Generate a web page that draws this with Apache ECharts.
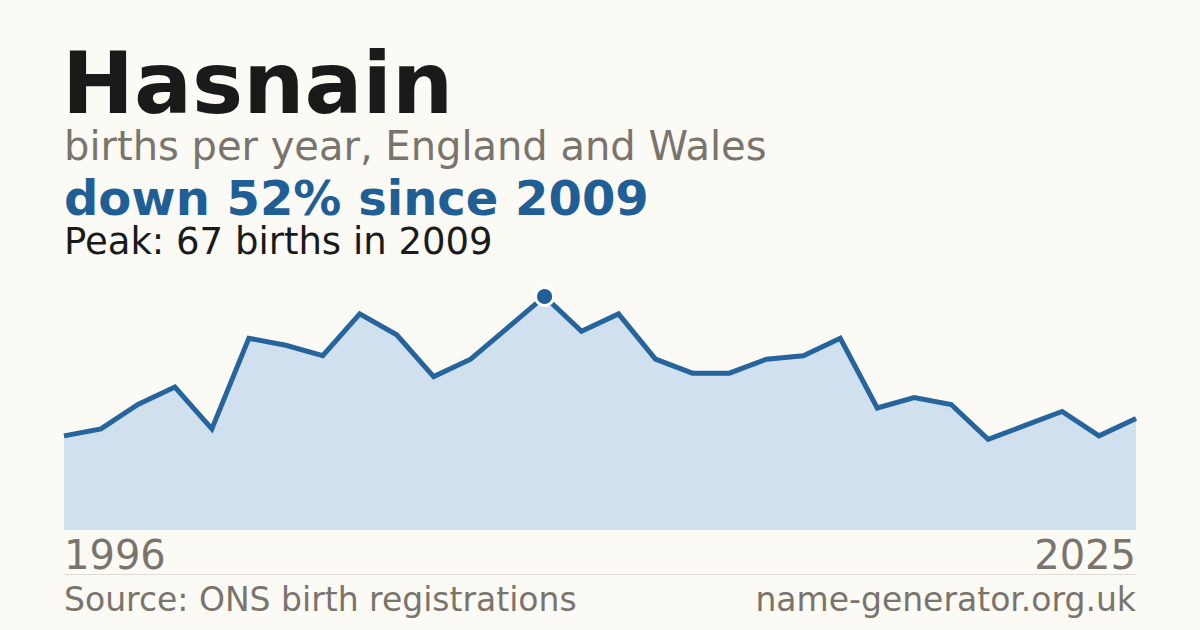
<!DOCTYPE html>
<html>
<head>
<meta charset="utf-8">
<style>
html,body{margin:0;padding:0;background:#fbfaf5;}
#chart{width:1200px;height:630px;}
</style>
<script src="https://cdn.jsdelivr.net/npm/echarts@6/dist/echarts.min.js"></script>
</head>
<body>
<div id="chart"></div>
<script>
const years = [1996,1997,1998,1999,2000,2001,2002,2003,2004,2005,2006,2007,2008,2009,2010,2011,2012,2013,2014,2015,2016,2017,2018,2019,2020,2021,2022,2023,2024,2025];
const births = [27,29,36,41,29,55,53,50,62,56,44,49,58,67,57,62,49,45,45,49,50,55,35,38,36,26,30,34,27,32];
const titleText = 'Hasnain';
const subtitleText = 'births per year, England and Wales';
const changeText = 'down 52% since 2009';
const peakText = 'Peak: 67 births in 2009';
const sourceText = 'Source: ONS birth registrations';
const siteText = 'name-generator.org.uk';

const FONT = '"DejaVu Sans", sans-serif';
const peakIndex = births.indexOf(Math.max.apply(null, births));
const seriesData = births.map((v, i) => i === peakIndex
  ? {value: v, symbol: 'circle', symbolSize: 18, itemStyle: {color: '#1f5f96', borderColor: '#ffffff', borderWidth: 3, opacity: 1}}
  : v);

const chart = echarts.init(document.getElementById('chart'), null, {renderer: 'svg'});
chart.setOption({
  backgroundColor: '#fbfaf5',
  animation: false,
  grid: {left: 64, right: 64, top: 286, bottom: 100},
  xAxis: {
    type: 'category',
    data: years.map(String),
    boundaryGap: false,
    axisLine: {show: false},
    axisTick: {show: false},
    splitLine: {show: false},
    axisLabel: {
      interval: (i) => i === 0 || i === years.length - 1,
      showMinLabel: true,
      showMaxLabel: true,
      alignMinLabel: 'left',
      alignMaxLabel: 'right',
      margin: 5,
      color: '#7a746d',
      fontSize: 40,
      fontFamily: FONT
    }
  },
  yAxis: {
    type: 'value',
    min: 0,
    max: 70,
    show: false,
    splitLine: {show: false}
  },
  series: [{
    type: 'line',
    data: seriesData,
    symbol: 'none',
    lineStyle: {color: '#25649c', width: 5, join: 'miter'},
    areaStyle: {color: '#d0e0ef', opacity: 1},
    z: 3
  }],
  graphic: [
    {type: 'text', x: 62, y: 83, style: {text: titleText, font: 'bold 86px ' + FONT, lineHeight: 66, fill: '#1a1a1a', verticalAlign: 'middle', align: 'left'}},
    {type: 'text', x: 64, y: 146, style: {text: subtitleText, font: '40px ' + FONT, lineHeight: 34, fill: '#7a746d', verticalAlign: 'middle', align: 'left'}},
    {type: 'text', x: 64, y: 198, style: {text: changeText, font: 'bold 48px ' + FONT, lineHeight: 40, fill: '#1f5f96', verticalAlign: 'middle', align: 'left'}},
    {type: 'text', x: 64, y: 241, style: {text: peakText, font: '37px ' + FONT, lineHeight: 32, fill: '#1a1a1a', verticalAlign: 'middle', align: 'left'}},
    {type: 'line', shape: {x1: 64, y1: 574.5, x2: 1136, y2: 574.5}, style: {stroke: '#dedbd5', lineWidth: 1}},
    {type: 'text', x: 64, y: 599, style: {text: sourceText, font: '33px ' + FONT, lineHeight: 30, fill: '#7a746d', verticalAlign: 'middle', align: 'left'}},
    {type: 'text', x: 1136, y: 599, style: {text: siteText, font: '33px ' + FONT, lineHeight: 30, fill: '#7a746d', verticalAlign: 'middle', align: 'right'}}
  ]
});
</script>
</body>
</html>
